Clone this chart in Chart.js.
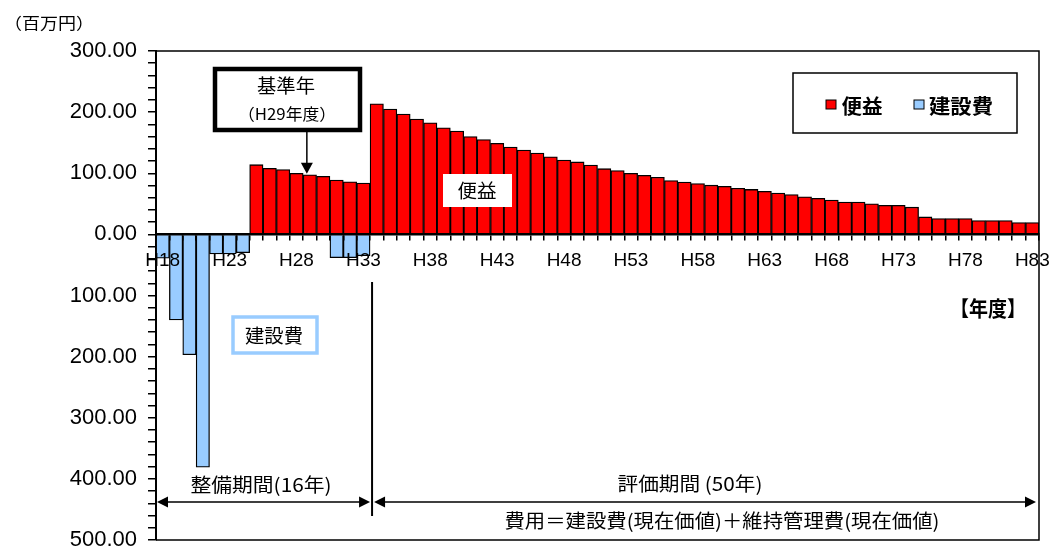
<!DOCTYPE html>
<html>
<head>
<meta charset="utf-8">
<script src="https://cdn.jsdelivr.net/npm/chart.js@4"></script>
<style>
  body { margin: 0; background: #fff; }
  canvas { display: block; }
</style>
</head>
<body>
<canvas id="bcChart" width="1051" height="551"></canvas>
<script>
// 年度 H18〜H83
const years = [];
for (let y = 18; y <= 83; y++) years.push('H' + y);

// 便益（百万円） H18〜H83
const benefit = [
    null, null, null, null, null, null, null,
    114, 108, 106, 100, 97.5, 95, 89, 86, 84,
    213.5, 205, 197, 188.5, 182.5, 174.5, 169, 160, 155, 149,
    143, 138, 133, 127, 121.5, 118.5, 113.5, 107.5, 104.5, 100,
    96.5, 93.5, 88, 85.5, 83,
    80.5, 78.5, 75.5, 73.5, 70.5, 67.5, 65, 61.5, 59, 56,
    53, 53, 50, 47.5, 47.5, 44.5, 28.5, 26, 26, 26,
    22.5, 22.5, 22.5, 19.5, 19.5
];

// 建設費（百万円、下向き） H18〜H83
const cost = [
    -39, -140, -197, -381, -32, -32, -30,
    null, null, null, null, null, null,
    -38, -38, -35
];
while (cost.length < years.length) cost.push(null);

const yMin = -500, yMax = 300, yStep = 20;
const baseYear = 'H29';
const buildEnd = 'H33';

function fitText(ctx, text, cx, cy, font, w) {
    ctx.save();
    ctx.font = font;
    const m = ctx.measureText(text).width;
    ctx.translate(cx, cy);
    ctx.scale(w / m, 1);
    ctx.textAlign = 'center';
    ctx.textBaseline = 'middle';
    ctx.fillStyle = '#000';
    ctx.fillText(text, 0, 0);
    ctx.restore();
}

function arrowHead(ctx, x, y, dir) {
    // dir: 1 = 右向き, -1 = 左向き
    ctx.beginPath();
    ctx.moveTo(x, y);
    ctx.lineTo(x - dir * 11, y - 5.5);
    ctx.lineTo(x - dir * 11, y + 5.5);
    ctx.closePath();
    ctx.fill();
}

const extras = {
    id: 'extras',
    afterDraw(chart) {
        const ctx = chart.ctx;
        const a = chart.chartArea;
        const xs = chart.scales.x, ys = chart.scales.y;
        const jp = '"Noto Sans CJK JP", sans-serif';

        ctx.save();
        ctx.strokeStyle = '#000';
        ctx.fillStyle = '#000';

        // 枠線（上・右・下）
        ctx.lineWidth = 1.5;
        ctx.beginPath();
        ctx.moveTo(a.left, a.top); ctx.lineTo(a.right, a.top);
        ctx.lineTo(a.right, a.bottom); ctx.lineTo(a.left, a.bottom);
        ctx.stroke();

        // 単位
        fitText(ctx, '（百万円）', 49, 23, '16px ' + jp, 90);

        // 凡例
        ctx.lineWidth = 1.5;
        ctx.strokeRect(793, 73, 224, 60);
        const ds = chart.data.datasets;
        const leg = [
            { sx: 826, tx: 862, tw: 41, d: ds[0] },
            { sx: 914, tx: 961, tw: 64, d: ds[1] }
        ];
        leg.forEach(l => {
            ctx.fillStyle = l.d.backgroundColor;
            ctx.fillRect(l.sx, 100, 10, 9);
            ctx.lineWidth = 1;
            ctx.strokeRect(l.sx, 100, 10, 9);
            fitText(ctx, l.d.label, l.tx, 106, 'bold 20px ' + jp, l.tw);
        });

        // 基準年
        ctx.lineWidth = 4.5;
        ctx.fillStyle = '#fff';
        ctx.fillRect(215, 69, 145, 61);
        ctx.strokeRect(215, 69, 145, 61);
        fitText(ctx, '基準年', 286, 86, '19px ' + jp, 58);
        fitText(ctx, '（H29年度）', 287, 114, '16px ' + jp, 98);
        const bi = years.indexOf(baseYear);
        const ax = xs.getPixelForValue(bi) - 3;
        const ay = ys.getPixelForValue(benefit[bi]);
        ctx.lineWidth = 1.5;
        ctx.beginPath();
        ctx.moveTo(ax, 132); ctx.lineTo(ax, ay - 10);
        ctx.stroke();
        ctx.fillStyle = '#000';
        ctx.beginPath();
        ctx.moveTo(ax, ay - 1);
        ctx.lineTo(ax - 6, ay - 12);
        ctx.lineTo(ax + 6, ay - 12);
        ctx.closePath();
        ctx.fill();

        // 便益ラベル
        ctx.fillStyle = '#fff';
        ctx.fillRect(443, 174, 69, 33);
        fitText(ctx, '便益', 477, 191, '19px ' + jp, 39);

        // 建設費ラベル
        ctx.fillStyle = '#fff';
        ctx.fillRect(233, 317, 84, 36);
        ctx.strokeStyle = '#99ccff';
        ctx.lineWidth = 3.5;
        ctx.strokeRect(233, 317, 84, 36);
        fitText(ctx, '建設費', 274, 336, '19px ' + jp, 58);

        // 年度
        fitText(ctx, '【年度】', 988, 308, 'bold 21px ' + jp, 76);

        // 期間の区切り線と矢印
        const ei = years.indexOf(buildEnd);
        const sepX = (xs.getPixelForValue(ei) + xs.getPixelForValue(ei + 1)) / 2 + 2;
        ctx.strokeStyle = '#000';
        ctx.fillStyle = '#000';
        ctx.lineWidth = 2;
        ctx.beginPath();
        ctx.moveTo(sepX, 282); ctx.lineTo(sepX, 516);
        ctx.stroke();

        const arY = 502;
        ctx.lineWidth = 1.5;
        ctx.beginPath();
        ctx.moveTo(a.left + 4, arY); ctx.lineTo(sepX - 4, arY);
        ctx.moveTo(sepX + 4, arY); ctx.lineTo(a.right - 5, arY);
        ctx.stroke();
        arrowHead(ctx, a.left + 1, arY, -1);
        arrowHead(ctx, sepX - 2, arY, 1);
        arrowHead(ctx, sepX + 2, arY, -1);
        arrowHead(ctx, a.right - 3, arY, 1);

        fitText(ctx, '整備期間(16年)', 261, 485, '19px ' + jp, 141);
        fitText(ctx, '評価期間 (50年)', 690, 484, '19px ' + jp, 145);
        fitText(ctx, '費用＝建設費(現在価値)＋維持管理費(現在価値)', 722, 521, '19px ' + jp, 435);

        ctx.restore();
    }
};

const ctx = document.getElementById('bcChart').getContext('2d');
const chart = new Chart(ctx, {
    type: 'bar',
    data: {
        labels: years,
        datasets: [{
            label: '便益',
            data: benefit,
            backgroundColor: '#ff0000',
            borderColor: '#000',
            borderWidth: 1.3,
            barPercentage: 1,
            categoryPercentage: 1
        }, {
            label: '建設費',
            data: cost,
            backgroundColor: '#99ccff',
            borderColor: '#000',
            borderWidth: 1.3,
            barPercentage: 1,
            categoryPercentage: 1
        }]
    },
    options: {
        responsive: false,
        animation: false,
        devicePixelRatio: 1,
        layout: { padding: { top: 51, right: 12, bottom: 11, left: 0 } },
        plugins: {
            legend: { display: false },
            tooltip: { enabled: false }
        },
        scales: {
            x: {
                type: 'category',
                stacked: true,
                position: { y: 0 },
                afterFit: s => {
                    s.height = 0;
                    s.paddingLeft = 0;
                    s.paddingRight = 0;
                },
                grid: {
                    drawOnChartArea: false,
                    drawTicks: true,
                    tickLength: 5,
                    color: '#000',
                    lineWidth: 1.5,
                    offset: true,
                    z: 1
                },
                border: { display: true, color: '#000', width: 2.5, z: 1 },
                ticks: {
                    autoSkip: false,
                    maxRotation: 0,
                    padding: 10,
                    color: '#000',
                    z: 2,
                    font: { family: '"Liberation Sans", Arial, sans-serif', size: 19 },
                    callback: (v, i) => i % 5 === 0 ? years[i] : ''
                }
            },
            y: {
                stacked: true,
                min: yMin,
                max: yMax,
                afterFit: s => {
                    s.width = 156;
                    s.paddingTop = 0;
                    s.paddingBottom = 0;
                },
                grid: {
                    drawOnChartArea: false,
                    drawTicks: true,
                    tickLength: 8,
                    color: '#000',
                    lineWidth: 1.5
                },
                border: { display: true, color: '#000', width: 2 },
                ticks: {
                    stepSize: yStep,
                    autoSkip: false,
                    padding: 11,
                    color: '#000',
                    font: { family: '"Liberation Sans", Arial, sans-serif', size: 22 },
                    callback: v => Math.round(v) % 100 === 0 ? Math.abs(v).toFixed(2) : ''
                }
            }
        }
    },
    plugins: [extras]
});
</script>
</body>
</html>
